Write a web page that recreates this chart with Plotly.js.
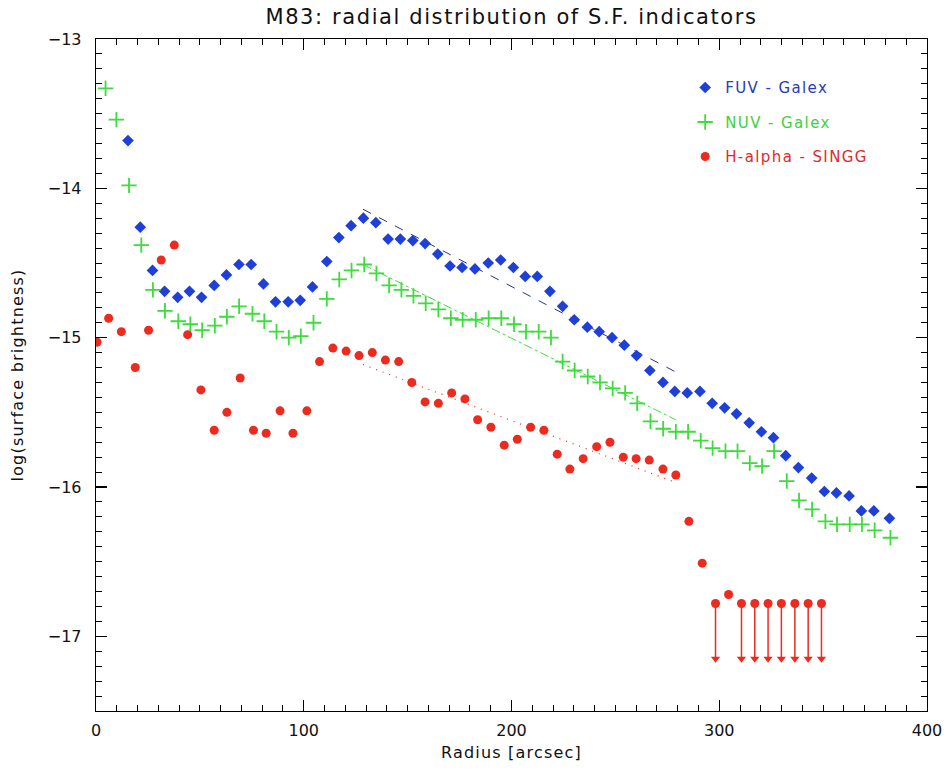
<!DOCTYPE html>
<html>
<head>
<meta charset="utf-8">
<script src="https://cdn.plot.ly/plotly-3.0.1.min.js"></script>
<style>
html,body{margin:0;padding:0;background:#fff;}
#chart{width:947px;height:772px;}
#chart .gtitle{letter-spacing:1.6px;}
#chart .xtitle,#chart .ytitle{letter-spacing:1.2px;}
#chart .legendtext{letter-spacing:1.4px;}
#chart .legend .scrollbox, #chart .legend g{clip-path:none !important;}
</style>
</head>
<body>
<div id="chart"></div>
<script>
// ---- data ----
const fuvR = [15.4, 21.3, 27.2, 33.0, 39.3, 45.0, 50.8, 56.9, 62.8, 68.8, 74.7, 80.6, 86.4, 92.5, 98.3, 104.2, 111.1, 116.9, 122.8, 128.7, 134.7, 140.6, 146.5, 152.5, 158.4, 164.5, 170.4, 176.2, 182.4, 188.8, 194.8, 200.9, 206.6, 212.4, 218.5, 224.6, 230.2, 236.5, 242.2, 248.4, 254.3, 260.2, 266.6, 272.9, 278.6, 284.6, 290.7, 296.6, 302.6, 308.3, 314.4, 320.3, 326.1, 332.0, 338.1, 344.5, 350.6, 356.4, 362.5, 368.4, 374.4, 381.9];
const fuvV = [-13.68, -14.26, -14.55, -14.69, -14.73, -14.69, -14.73, -14.65, -14.58, -14.51, -14.51, -14.64, -14.76, -14.76, -14.75, -14.66, -14.49, -14.33, -14.25, -14.20, -14.23, -14.34, -14.34, -14.35, -14.37, -14.44, -14.52, -14.53, -14.54, -14.50, -14.48, -14.53, -14.59, -14.59, -14.69, -14.79, -14.88, -14.93, -14.96, -15.00, -15.05, -15.12, -15.22, -15.30, -15.36, -15.37, -15.36, -15.44, -15.47, -15.51, -15.57, -15.63, -15.67, -15.79, -15.87, -15.94, -16.03, -16.04, -16.06, -16.16, -16.16, -16.21];

const nuvR = [4.6, 9.8, 15.9, 21.8, 27.4, 33.2, 39.6, 45.4, 51.1, 57.2, 63.0, 68.9, 75.3, 81.0, 86.9, 92.8, 98.6, 104.7, 111.1, 117.1, 123.0, 129.1, 135.0, 141.1, 147.0, 152.8, 158.7, 164.8, 170.8, 176.5, 182.8, 189.0, 195.1, 201.2, 207.0, 213.1, 219.0, 224.6, 230.4, 236.7, 242.6, 248.7, 254.7, 260.5, 266.9, 273.0, 279.1, 285.0, 291.1, 296.8, 303.0, 308.8, 314.7, 320.6, 326.4, 332.5, 338.4, 344.7, 351.1, 356.7, 362.8, 368.7, 374.8, 382.4];
const nuvV = [-13.33, -13.54, -13.98, -14.38, -14.68, -14.82, -14.89, -14.91, -14.95, -14.92, -14.86, -14.79, -14.84, -14.89, -14.96, -15.00, -14.99, -14.90, -14.74, -14.61, -14.55, -14.51, -14.57, -14.65, -14.68, -14.72, -14.77, -14.81, -14.87, -14.88, -14.88, -14.87, -14.87, -14.91, -14.96, -14.96, -15.00, -15.16, -15.22, -15.26, -15.30, -15.34, -15.37, -15.44, -15.56, -15.61, -15.63, -15.63, -15.69, -15.74, -15.76, -15.76, -15.84, -15.86, -15.76, -15.96, -16.09, -16.15, -16.23, -16.25, -16.25, -16.25, -16.29, -16.34];

const haR = [0.5, 6.1, 12.2, 18.9, 25.3, 31.4, 37.7, 44.1, 50.5, 56.9, 63.0, 69.4, 75.8, 81.9, 88.6, 94.8, 101.5, 107.6, 114.0, 120.4, 126.6, 133.0, 139.3, 145.7, 152.0, 158.4, 164.8, 171.2, 177.6, 183.7, 190.1, 196.5, 202.8, 209.2, 215.6, 222.0, 228.1, 234.5, 241.0, 247.4, 253.8, 260.0, 266.3, 272.9, 279.1, 285.4, 291.8, 304.5];
const haV = [-15.03, -14.87, -14.96, -15.20, -14.95, -14.48, -14.38, -14.98, -15.35, -15.62, -15.50, -15.27, -15.62, -15.64, -15.49, -15.64, -15.49, -15.16, -15.07, -15.09, -15.12, -15.10, -15.15, -15.16, -15.30, -15.43, -15.44, -15.37, -15.41, -15.55, -15.60, -15.72, -15.68, -15.60, -15.62, -15.78, -15.88, -15.81, -15.73, -15.70, -15.80, -15.81, -15.82, -15.88, -15.92, -16.23, -16.51, -16.72];

// H-alpha upper limits
const limR = [298.2, 310.7, 317.1, 323.5, 329.9, 336.4, 342.8, 349.2];
const limV = [-16.78, -16.78, -16.78, -16.78, -16.78, -16.78, -16.78, -16.78];
const limTip = [-17.15, -17.15, -17.15, -17.15, -17.15, -17.15, -17.15, -17.15];

// linear fits (end points)
const fitR = [128.5, 279.1];
const fuvFit = [-14.14, -15.23];
const nuvFit = [-14.51, -15.55];
const haFit = [-15.18, -15.97];

const seriesNames = ['FUV - Galex', 'NUV - Galex', 'H-alpha - SINGG'];
const titleText = 'M83: radial distribution of S.F. indicators';
const xTitle = 'Radius [arcsec]';
const yTitle = 'log(surface brightness)';

// ---- styling ----
const BLUE = '#1e3fd8', GREEN = '#3ddc3d', RED = '#ec2a1e';
const FONT = 'DejaVu Sans, Liberation Sans, sans-serif';

// arrow shafts built from limit arrays
const shaftX = [], shaftY = [];
limR.forEach((r, i) => { shaftX.push(r, r, null); shaftY.push(limV[i], limTip[i], null); });

const traces = [
  {x: fitR, y: fuvFit, mode: 'lines', line: {color: '#28348c', width: 1, dash: '9px,9px'}, showlegend: false, hoverinfo: 'skip'},
  {x: fitR, y: nuvFit, mode: 'lines', line: {color: GREEN, width: 1, dash: 'dashdot'}, showlegend: false, hoverinfo: 'skip'},
  {x: fitR, y: haFit, mode: 'lines', line: {color: RED, width: 1.2, dash: '1px,6px'}, showlegend: false, hoverinfo: 'skip'},
  {x: fuvR, y: fuvV, mode: 'markers', name: '<span style="color:#2a3ab8">' + seriesNames[0] + '</span>', legendgroup: 'a',
   marker: {symbol: 'diamond', size: 9, color: BLUE}},
  {x: nuvR, y: nuvV, mode: 'markers', name: '<span style="color:#40d040">' + seriesNames[1] + '</span>', legendgroup: 'b',
   marker: {symbol: 'cross-thin-open', size: 11, color: GREEN, line: {color: GREEN, width: 1.8}}},
  {x: haR, y: haV, mode: 'markers', name: '<span style="color:#e02a2a">' + seriesNames[2] + '</span>', legendgroup: 'c',
   marker: {symbol: 'circle', size: 9, color: RED}},
  {x: shaftX, y: shaftY, mode: 'lines', line: {color: RED, width: 1.5}, showlegend: false, hoverinfo: 'skip'},
  {x: limR, y: limV, mode: 'markers', marker: {symbol: 'circle', size: 9, color: RED}, showlegend: false},
  {x: limR, y: limTip, mode: 'markers', marker: {symbol: 'triangle-down', size: 8, color: RED}, showlegend: false}
];

const axisCommon = {
  showgrid: false, zeroline: false, showline: true, linecolor: '#000', linewidth: 1.3,
  mirror: 'ticks', ticks: 'inside', ticklen: 11, tickwidth: 1.2, tickcolor: '#000',
  tickfont: {family: FONT, size: 16, color: '#111'}
};

const layout = {
  width: 947, height: 772,
  margin: {l: 96, r: 20, t: 39, b: 61},
  paper_bgcolor: '#fff', plot_bgcolor: '#fff',
  font: {family: FONT, color: '#111'},
  title: {text: titleText, font: {family: FONT, size: 21, color: '#111'}, xref: 'paper', x: 0.5, xanchor: 'center', yref: 'container', y: 0.978, yanchor: 'middle'},
  xaxis: Object.assign({}, axisCommon, {
    range: [0, 400], tick0: 0, dtick: 100,
    minor: {dtick: 10, ticks: 'inside', ticklen: 6, tickcolor: '#000', tickwidth: 1},
    ticklabelstandoff: 4,
    title: {text: xTitle, font: {family: FONT, size: 16, color: '#111'}, standoff: 8}
  }),
  yaxis: Object.assign({}, axisCommon, {
    range: [-17.5, -13], tick0: -13, dtick: 1,
    minor: {dtick: 0.1, ticks: 'inside', ticklen: 6, tickcolor: '#000', tickwidth: 1},
    ticklabelstandoff: 10,
    title: {text: yTitle, font: {family: FONT, size: 16, color: '#111'}, standoff: 20}
  }),
  legend: {x: 0.709, xanchor: 'left', y: 0.952, yanchor: 'top', bgcolor: 'rgba(0,0,0,0)', borderwidth: 0,
           font: {family: FONT, size: 15}, tracegroupgap: 12, itemwidth: 30},
  showlegend: true
};

Plotly.newPlot('chart', traces, layout, {displayModeBar: false, staticPlot: true});
</script>
</body>
</html>
